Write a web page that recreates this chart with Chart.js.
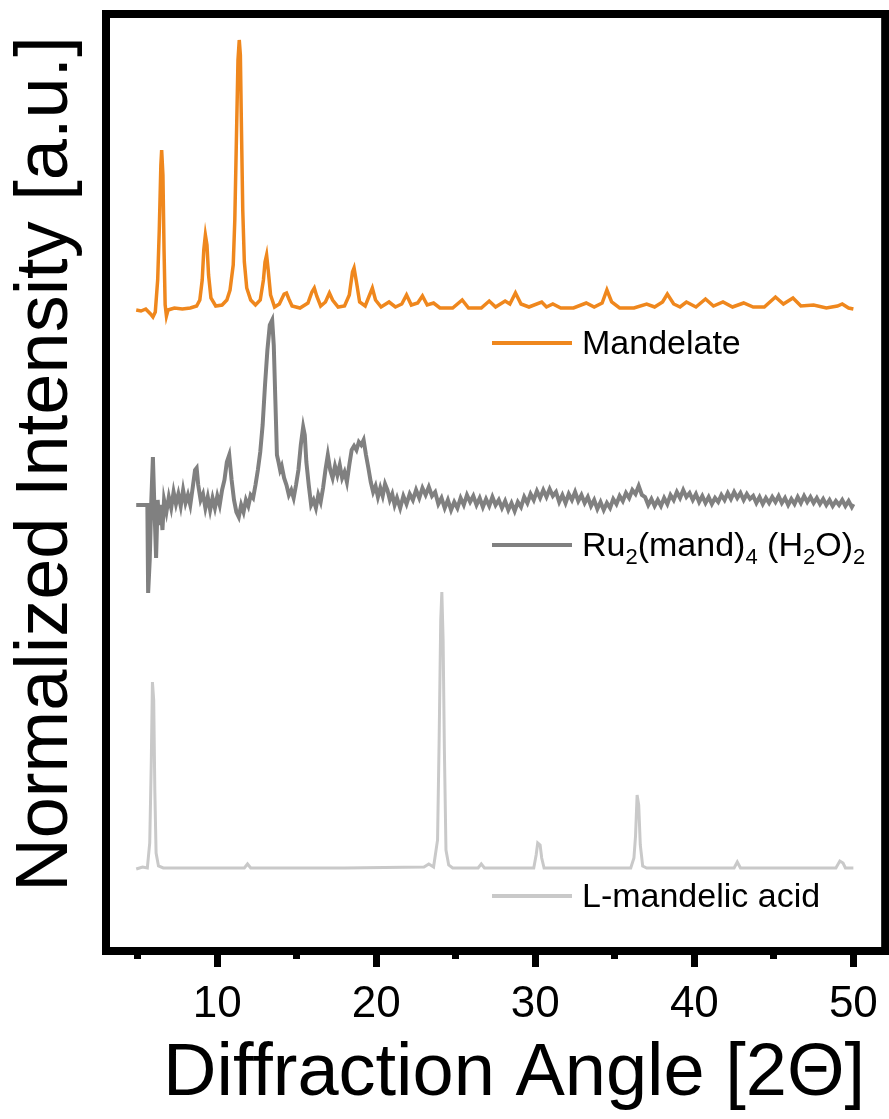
<!DOCTYPE html>
<html>
<head>
<meta charset="utf-8">
<title>XRD patterns</title>
<script src="https://cdn.jsdelivr.net/npm/chart.js@4.4.0/dist/chart.umd.min.js"></script>
<style>
  html, body { margin: 0; padding: 0; background: #fff; }
  #wrap { width: 889px; height: 1119px; }
</style>
</head>
<body>
<div id="wrap"><canvas id="xrd" width="889" height="1119"></canvas></div>
<script>
// ---- Data: [2θ, offset intensity (a.u.)] ----

const seriesNames = ['Mandelate', 'Ru2(mand)4 (H2O)2', 'L-mandelic acid']
const seriesColors = ['#EF871D', '#808080', '#C9C9C9']

const xTicks = [10, 20, 30, 40, 50]

const mandelate = [
  [4.9, 64.1], [5.2, 64.0], [5.5, 64.2], [5.8, 63.7], [5.95, 63.4], [6.1, 63.9], [6.25, 67.1], [6.35, 72.1], [6.45, 78.6], [6.5, 80.1],
  [6.58, 77.6], [6.65, 70.1], [6.72, 64.6], [6.8, 63.5], [6.9, 64.1], [7.3, 64.3], [7.8, 64.2], [8.3, 64.3], [8.7, 64.5], [8.9, 65.1],
  [9.05, 67.1], [9.15, 70.1], [9.25, 71.6], [9.35, 70.6], [9.45, 67.6], [9.6, 65.3], [9.9, 64.5], [10.3, 64.6], [10.6, 65.1], [10.8, 66.1],
  [11.0, 68.6], [11.1, 73.1], [11.2, 81.1], [11.3, 89.1], [11.38, 91.1], [11.45, 89.6], [11.52, 82.1], [11.6, 74.1], [11.7, 68.9], [11.85, 66.3],
  [12.1, 65.1], [12.4, 64.6], [12.7, 65.1], [12.9, 67.1], [13.0, 68.9], [13.1, 69.6], [13.2, 68.1], [13.35, 65.6], [13.6, 64.4], [13.9, 64.7],
  [14.2, 65.7], [14.35, 65.8], [14.5, 65.2], [14.7, 64.5], [15.2, 64.3], [15.7, 64.8], [15.95, 65.9], [16.1, 66.3], [16.25, 65.5], [16.5, 64.5],
  [16.8, 64.9], [17.05, 65.8], [17.25, 65.1], [17.6, 64.4], [18.0, 64.5], [18.3, 65.6], [18.5, 67.9], [18.6, 68.3], [18.75, 66.9], [18.95, 64.9],
  [19.3, 64.5], [19.55, 65.5], [19.75, 66.3], [19.95, 65.1], [20.3, 64.4], [20.8, 64.9], [21.2, 64.4], [21.6, 64.7], [21.9, 65.6], [22.2, 64.6],
  [22.6, 64.8], [22.9, 65.5], [23.2, 64.6], [23.6, 64.8], [24.0, 64.3], [24.8, 64.3], [25.4, 65.1], [25.8, 64.3], [26.6, 64.3], [27.1, 65.0],
  [27.5, 64.4], [28.1, 65.0], [28.4, 64.7], [28.75, 65.8], [29.1, 64.7], [29.6, 64.4], [30.4, 64.9], [30.7, 64.4], [31.1, 64.7], [31.6, 64.3],
  [32.4, 64.3], [33.2, 64.8], [33.7, 64.4], [34.2, 64.8], [34.5, 66.1], [34.8, 64.9], [35.3, 64.3], [36.2, 64.3], [37.0, 64.7], [37.5, 64.4],
  [38.0, 64.9], [38.3, 65.7], [38.7, 64.7], [39.1, 64.4], [39.5, 64.9], [40.1, 64.4], [40.7, 65.2], [41.2, 64.5], [41.8, 64.9], [42.4, 64.4],
  [43.1, 64.8], [43.7, 64.4], [44.4, 64.4], [45.1, 65.4], [45.6, 64.7], [46.2, 65.3], [46.7, 64.5], [47.5, 64.6], [48.3, 64.3], [49.0, 64.5],
  [49.3, 64.7], [49.7, 64.3], [50.0, 64.2]
]

const ruComplex = [
  [4.9, 44.6], [5.3, 44.6], [5.6, 44.6], [5.65, 35.8], [5.75, 39.1], [5.85, 45.1], [5.95, 49.4], [6.05, 44.1], [6.15, 39.3], [6.25, 45.1],
  [6.35, 42.6], [6.45, 44.6], [6.55, 42.1], [6.65, 45.1], [6.8, 43.9], [6.95, 45.4], [7.1, 44.3], [7.25, 45.9], [7.4, 44.7], [7.55, 45.7],
  [7.7, 44.5], [7.85, 46.1], [8.0, 44.8], [8.15, 45.6], [8.3, 44.6], [8.45, 46.3], [8.6, 48.1], [8.7, 48.3], [8.8, 46.6], [8.95, 45.1],
  [9.1, 45.7], [9.25, 44.3], [9.4, 45.4], [9.55, 44.1], [9.7, 45.3], [9.85, 44.3], [10.0, 45.5], [10.15, 44.6], [10.3, 46.1], [10.45, 47.1],
  [10.6, 48.9], [10.75, 49.6], [10.9, 47.1], [11.05, 45.1], [11.2, 43.9], [11.35, 43.4], [11.5, 44.6], [11.65, 43.9], [11.8, 45.1], [11.95, 44.5],
  [12.1, 45.6], [12.25, 45.3], [12.4, 46.6], [12.55, 48.1], [12.7, 49.9], [12.85, 52.6], [13.0, 56.6], [13.15, 60.1], [13.3, 62.6], [13.45, 63.1],
  [13.55, 60.6], [13.65, 55.1], [13.75, 49.6], [13.85, 48.9], [13.95, 48.1], [14.05, 48.5], [14.2, 47.3], [14.35, 46.6], [14.5, 45.6], [14.65, 46.1],
  [14.8, 45.3], [14.95, 46.6], [15.1, 48.1], [15.25, 50.6], [15.4, 52.4], [15.5, 51.6], [15.6, 48.9], [15.75, 46.6], [15.9, 44.6], [16.05, 45.1],
  [16.2, 44.3], [16.35, 45.6], [16.5, 44.9], [16.65, 46.3], [16.8, 48.1], [16.95, 49.6], [17.1, 48.1], [17.25, 47.3], [17.4, 48.5], [17.55, 47.6],
  [17.7, 48.6], [17.85, 47.3], [18.0, 47.9], [18.15, 46.9], [18.3, 48.6], [18.45, 50.1], [18.6, 50.5], [18.75, 50.1], [18.9, 50.9], [19.05, 50.6],
  [19.2, 51.1], [19.35, 49.6], [19.5, 48.3], [19.65, 46.9], [19.8, 45.9], [19.95, 46.5], [20.1, 45.4], [20.25, 46.3], [20.4, 45.5], [20.55, 46.7],
  [20.7, 46.1], [20.85, 45.1], [21.0, 45.7], [21.15, 44.6], [21.3, 45.3], [21.5, 44.3], [21.7, 45.5], [21.9, 44.7], [22.1, 45.7], [22.3, 45.1],
  [22.5, 46.1], [22.7, 45.3], [22.9, 46.3], [23.1, 45.6], [23.3, 46.4], [23.5, 45.5], [23.7, 45.9], [23.9, 44.7], [24.1, 45.3], [24.3, 44.3],
  [24.5, 45.1], [24.7, 44.1], [24.9, 44.9], [25.1, 44.3], [25.3, 45.3], [25.5, 44.6], [25.7, 45.6], [25.9, 44.9], [26.1, 45.5], [26.3, 44.6],
  [26.5, 45.3], [26.7, 44.4], [26.9, 45.2], [27.1, 44.5], [27.3, 45.4], [27.5, 44.6], [27.7, 45.1], [27.9, 44.3], [28.1, 45.0], [28.3, 44.1],
  [28.5, 44.8], [28.7, 44.0], [28.9, 44.9], [29.1, 44.4], [29.3, 45.4], [29.5, 44.8], [29.7, 45.7], [29.9, 45.1], [30.1, 46.0], [30.3, 45.3],
  [30.5, 46.1], [30.7, 45.4], [30.9, 46.2], [31.1, 45.5], [31.3, 45.9], [31.5, 44.9], [31.7, 45.6], [31.9, 44.8], [32.1, 45.7], [32.3, 45.1],
  [32.5, 45.9], [32.7, 45.0], [32.9, 45.6], [33.1, 44.8], [33.3, 45.4], [33.5, 44.5], [33.7, 45.1], [33.9, 44.2], [34.1, 44.9], [34.3, 44.1],
  [34.5, 44.8], [34.7, 44.3], [34.9, 45.2], [35.1, 44.7], [35.3, 45.5], [35.5, 45.0], [35.7, 45.8], [35.9, 45.3], [36.1, 46.1], [36.3, 45.7],
  [36.5, 46.5], [36.7, 45.6], [36.9, 45.4], [37.1, 44.6], [37.3, 45.2], [37.5, 44.5], [37.7, 45.1], [37.9, 44.5], [38.1, 45.3], [38.3, 44.7],
  [38.5, 45.6], [38.7, 45.1], [38.9, 45.9], [39.1, 45.3], [39.3, 46.1], [39.5, 45.4], [39.7, 45.8], [39.9, 45.1], [40.1, 45.7], [40.3, 44.9],
  [40.5, 45.5], [40.7, 44.8], [40.9, 45.4], [41.1, 44.7], [41.3, 45.3], [41.5, 44.9], [41.7, 45.6], [41.9, 45.1], [42.1, 45.8], [42.3, 45.2],
  [42.5, 45.9], [42.7, 45.3], [42.9, 45.8], [43.1, 45.1], [43.3, 45.7], [43.5, 45.2], [43.7, 45.5], [43.9, 44.8], [44.1, 45.4], [44.3, 44.7],
  [44.5, 45.3], [44.7, 44.8], [44.9, 45.4], [45.1, 44.9], [45.3, 45.5], [45.5, 44.8], [45.7, 45.3], [45.9, 44.6], [46.1, 45.2], [46.3, 44.7],
  [46.5, 45.4], [46.7, 44.8], [46.9, 45.5], [47.1, 44.9], [47.3, 45.4], [47.5, 44.8], [47.7, 45.3], [47.9, 44.7], [48.1, 45.2], [48.3, 44.6],
  [48.5, 45.1], [48.7, 44.5], [48.9, 45.0], [49.1, 44.6], [49.3, 45.1], [49.5, 44.5], [49.7, 45.0], [49.9, 44.4], [50.0, 44.7]
]

const mandelicAcid = [
  [4.9, 8.2], [5.3, 8.4], [5.6, 8.3], [5.75, 10.8], [5.85, 19.1], [5.92, 26.9], [6.0, 25.1], [6.07, 16.1], [6.15, 9.8], [6.3, 8.5],
  [6.6, 8.3], [9.0, 8.3], [11.7, 8.3], [11.9, 8.7], [12.1, 8.3], [18.0, 8.3], [23.0, 8.4], [23.3, 8.7], [23.6, 8.4], [23.85, 11.1],
  [23.95, 21.1], [24.05, 33.1], [24.12, 35.9], [24.2, 31.1], [24.28, 20.1], [24.38, 10.1], [24.55, 8.6], [24.8, 8.3], [26.4, 8.3], [26.6, 8.7],
  [26.8, 8.3], [29.9, 8.3], [30.05, 9.6], [30.15, 10.8], [30.3, 10.6], [30.4, 9.3], [30.55, 8.3], [36.0, 8.3], [36.2, 9.3], [36.3, 11.5],
  [36.4, 15.6], [36.5, 14.6], [36.6, 10.6], [36.75, 8.5], [37.0, 8.3], [42.5, 8.3], [42.7, 8.9], [42.9, 8.3], [48.9, 8.3], [49.15, 9.0],
  [49.35, 8.8], [49.5, 8.3], [50.0, 8.3]
]

const patterns = [mandelate, ruComplex, mandelicAcid]

// ---- Chart ----

const FONT = "'Liberation Sans', Arial, sans-serif"
Chart.defaults.font.family = FONT
Chart.defaults.color = '#000'

// thick black frame round the plot area
const framePlugin = {
  id: 'frame',
  afterDatasetsDraw(chart) {
    const { ctx, chartArea: a } = chart
    ctx.save()
    ctx.strokeStyle = '#000'
    ctx.lineWidth = 8
    ctx.strokeRect(a.left, a.top, a.right - a.left, a.bottom - a.top)
    ctx.restore()
  }
}

// in-plot legend, one entry under each pattern
const legendRows = [
  { parts: [{ t: 'Mandelate' }], y: 343 },
  { parts: [{ t: 'Ru' }, { t: '2', sub: true }, { t: '(mand)' }, { t: '4', sub: true }, { t: ' (H' }, { t: '2', sub: true }, { t: 'O)' }, { t: '2', sub: true }], y: 545 },
  { parts: [{ t: 'L-mandelic acid' }], y: 896 }
]

const legendPlugin = {
  id: 'inlineLegend',
  afterDraw(chart) {
    const { ctx } = chart
    ctx.save()
    legendRows.forEach((row, i) => {
      ctx.strokeStyle = seriesColors[i]
      ctx.lineWidth = 4
      ctx.beginPath()
      ctx.moveTo(492, row.y)
      ctx.lineTo(572, row.y)
      ctx.stroke()

      let x = 582
      const base = row.y + 11
      ctx.fillStyle = '#000'
      ctx.textBaseline = 'alphabetic'
      ctx.textAlign = 'left'
      for (const p of row.parts) {
        ctx.font = p.sub ? `22px ${FONT}` : `34px ${FONT}`
        ctx.fillText(p.t, x, p.sub ? base + 8 : base)
        x += ctx.measureText(p.t).width
      }
    })
    ctx.restore()
  }
}

new Chart(document.getElementById('xrd'), {
  type: 'scatter',
  data: {
    datasets: patterns.map((pts, i) => ({
      label: seriesNames[i],
      data: pts.map(([x, y]) => ({ x, y })),
      showLine: true,
      borderColor: seriesColors[i],
      borderWidth: i === 1 ? 4 : (i === 2 ? 3 : 3.5),
      pointRadius: 0,
      tension: 0
    }))
  },
  options: {
    responsive: false,
    animation: false,
    devicePixelRatio: 1,
    layout: { padding: { top: 14, right: 3.5, left: 0, bottom: 0 } },
    plugins: { legend: { display: false }, tooltip: { enabled: false } },
    scales: {
      xMinor: {
        type: 'linear', position: 'bottom', weight: 0,
        min: 3, max: 52,
        ticks: { display: false, stepSize: 5, includeBounds: false },
        grid: { drawOnChartArea: false, tickLength: 8, tickWidth: 7, tickColor: '#000' },
        border: { display: false },
        afterFit: s => { s.height = 0 }
      },
      x: {
        type: 'linear', position: 'bottom', weight: 1,
        min: 3, max: 52,
        afterBuildTicks: s => { s.ticks = xTicks.map(v => ({ value: v })) },
        ticks: { font: { size: 44 }, padding: 11, maxRotation: 0 },
        grid: { drawOnChartArea: false, tickLength: 16, tickWidth: 7, tickColor: '#000' },
        border: { display: false },
        // leading en space nudges the title a little right, as in the original
        title: { display: true, text: '\u2002Diffraction Angle [2Θ]', font: { size: 74 }, padding: { top: 0, bottom: 0 } },
        afterFit: s => { s.height = 168 }
      },
      y: {
        min: 0, max: 93.7,
        ticks: { display: false },
        grid: { display: false },
        border: { display: false },
        title: { display: true, text: '\u2002Normalized Intensity [a.u.]', font: { size: 74 }, padding: { top: 2, bottom: 0 } },
        afterFit: s => { s.width = 106 }
      }
    }
  },
  plugins: [framePlugin, legendPlugin]
})
</script>
</body>
</html>
